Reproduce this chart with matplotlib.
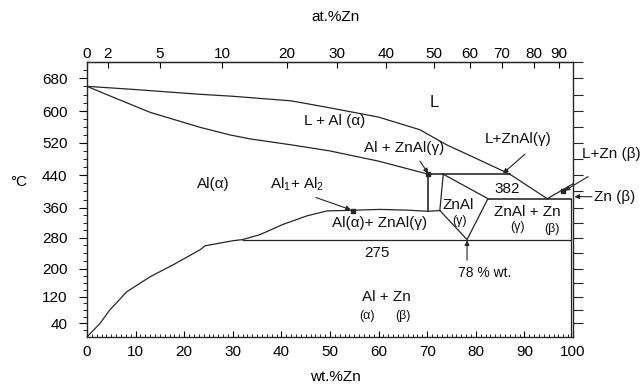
import numpy as np
import matplotlib
matplotlib.use('Agg')
import matplotlib.pyplot as plt

plt.rcParams.update({
    'font.family': 'Liberation Sans', 'font.size': 11,
    'mathtext.fontset': 'custom', 'mathtext.rm': 'Liberation Sans',
    'mathtext.it': 'Liberation Sans',
})

# --- phase boundaries (wt.% Zn, deg C) ---
LIQ_WT = [0, 9, 23, 30, 42, 50, 60, 68.5, 74, 80, 87, 94.7]
LIQ_T = [660, 653, 641, 636, 625, 608, 585, 553, 515, 482, 443, 382]

SOL_WT = [0, 4.7, 13, 23.3, 29.4, 33.5, 42, 50, 60, 70.2]
SOL_T = [660, 637, 597, 559, 540, 530, 515, 500, 475, 443]

SOLVUS_WT = [0, 2.7, 4.7, 8.2, 13, 17.7, 23.3, 24.3, 30, 32]
SOLVUS_T = [0, 40, 80, 134, 177, 210, 249, 259, 272, 275]

DOME_WT = [32, 35.6, 40.3, 45.3, 49.4, 52.7, 60.3, 66, 70.2, 72.6]
DOME_T = [275, 288, 315, 338, 351, 352, 355, 353, 350, 352]

GAMMA_WT = [73.3, 82.5, 78.2, 72.6, 73.3]
GAMMA_T = [443, 382, 275, 352, 443]

ZN_LIQ_WT = [94.7, 100]
ZN_LIQ_T = [382, 419]

PERITECTIC_T = 443
PERITECTIC_WT = [70.2, 87]
EUTECTIC_T = 382
EUTECTIC_WT = [82.5, 99.5]
EUTECTOID_T = 275
EUTECTOID_WT = [32, 99.5]
ALPHA_EDGE_WT = 70.2
ALPHA_EDGE_T = [443, 350]
ZN_SOLVUS_WT = 99.5
ZN_SOLVUS_T = [382, 0]

# top axis: at.% Zn labels and where they sit on the wt.% scale
AT_LABELS = ['0', '2', '5', '10', '20', '30', '40', '50', '60', '70', '80', '90']
AT_POS_WT = [0, 4.3, 15.0, 27.8, 41.2, 51.4, 61.5, 71.4, 78.8, 85.4, 92.0, 97.1]

Y_TICKS = [40, 120, 200, 280, 360, 440, 520, 600, 680]

# markers and arrows (tail -> tip)
DOT_WT = [70.2, 54.7, 97.9]
DOT_T = [443, 352, 400]
ARROWS = [
    ((68.5, 475), (70.2, 445)),
    ((90.1, 492), (85.6, 445)),
    ((47.1, 385), (54.3, 354)),
    ((103.1, 437), (98.3, 402)),
    ((103.9, 387), (100.3, 387)),
    ((78.2, 222), (78.2, 273)),
]

LABELS = [
    ('L', 71.4, 622, 12),
    ('L + Al (α)', 51, 575, 11),
    ('Al + ZnAl(γ)', 65.2, 507, 11),
    ('L+ZnAl(γ)', 88.7, 530, 11),
    ('Al(α)', 25.9, 418, 11),
    (r'Al$_1$+ Al$_2$', 43.2, 418, 11),
    ('Al(α)+ ZnAl(γ)', 60.3, 320, 11),
    ('ZnAl', 76.3, 367, 11),
    ('(γ)', 76.7, 323, 9),
    ('382', 86.4, 405, 11),
    ('ZnAl + Zn', 90.7, 347, 11),
    ('(γ)', 88.5, 307, 9),
    ('(β)', 95.7, 304, 9),
    ('275', 59.7, 241, 11),
    ('78 % wt.', 81.9, 189, 10),
    ('Al + Zn', 61.7, 120, 11),
    ('(α)', 57.6, 62, 9),
    ('(β)', 65.0, 62, 9),
]
LABELS_RIGHT = [
    ('L+Zn (β)', 101.9, 492, 11),
    ('Zn (β)', 104.3, 387, 11),
]

# the scanned temperature axis is not evenly spaced: calibrate it
SCALE_T = [-1000, 0, 40, 120, 200, 280, 360, 440, 520, 600, 680, 720, 2000]
SCALE_PX = [-342.5, 0, 13.7, 40.3, 68, 99, 129, 161, 193.5, 225, 258, 274, 786]


def t_fwd(t):
    return np.interp(t, SCALE_T, SCALE_PX)


def t_inv(h):
    return np.interp(h, SCALE_PX, SCALE_T)


def main():
    C = '#262626'
    LW = 0.9
    fig = plt.figure(figsize=(6.41, 3.87), dpi=100)
    pos = [87/641, 1-337/387, (573-87)/641, (337-62)/387]
    ax = fig.add_axes(pos)
    ax.set_yscale('function', functions=(t_fwd, t_inv))
    ax.set_xlim(0, 100)
    ax.set_ylim(0, 720)

    ax.plot(LIQ_WT, LIQ_T, color=C, lw=LW)
    ax.plot(SOL_WT, SOL_T, color=C, lw=LW)
    ax.plot(SOLVUS_WT, SOLVUS_T, color=C, lw=LW)
    ax.plot(DOME_WT, DOME_T, color=C, lw=LW)
    ax.plot(GAMMA_WT, GAMMA_T, color=C, lw=LW)
    ax.plot(ZN_LIQ_WT, ZN_LIQ_T, color=C, lw=LW)
    ax.plot(PERITECTIC_WT, [PERITECTIC_T]*2, color=C, lw=LW*1.3)
    ax.plot(EUTECTIC_WT, [EUTECTIC_T]*2, color=C, lw=LW*1.3)
    ax.plot(EUTECTOID_WT, [EUTECTOID_T]*2, color=C, lw=LW)
    ax.plot([ALPHA_EDGE_WT]*2, ALPHA_EDGE_T, color=C, lw=LW*1.3)
    ax.plot([ZN_SOLVUS_WT]*2, ZN_SOLVUS_T, color=C, lw=LW)
    ax.plot(DOT_WT, DOT_T, 's', ms=2.5, color=C)

    for tail, tip in ARROWS:
        ax.annotate('', xy=tip, xytext=tail, annotation_clip=False,
                    arrowprops=dict(arrowstyle='-|>', lw=0.8, color=C,
                                    mutation_scale=7, shrinkA=0, shrinkB=0))

    for txt, x, y, fs in LABELS:
        ax.text(x, y, txt, ha='center', va='center', fontsize=fs, color='#111')
    for txt, x, y, fs in LABELS_RIGHT:
        ax.text(x, y, txt, ha='left', va='center', fontsize=fs, color='#111')

    # axes styling
    for s in ax.spines.values():
        s.set_linewidth(1.0); s.set_color(C)
    ax.set_xticks(range(0, 101, 10))
    ax.set_xticks(range(0, 101, 1), minor=True)
    ax.tick_params(axis='x', which='major', direction='in', length=4,
                   width=0.8, pad=6, labelsize=11, top=False)
    ax.tick_params(axis='x', which='minor', direction='in', length=2,
                   width=0.6, top=False)
    ax.set_yticks(Y_TICKS)
    ax.set_yticks([t for t in range(20, 720, 20) if t not in Y_TICKS], minor=True)
    ax.tick_params(axis='y', which='major', direction='out', length=6,
                   width=0.8, pad=8, labelsize=11, right=False)
    ax.tick_params(axis='y', which='minor', direction='out', length=3,
                   width=0.6, right=False)

    top = ax.secondary_xaxis('top')
    top.set_xticks(AT_POS_WT, labels=AT_LABELS)
    top.tick_params(direction='in', length=4, width=0.8, pad=1, labelsize=11)

    axr = fig.add_axes(pos)
    axr.set_yscale('function', functions=(t_fwd, t_inv))
    axr.set_ylim(0, 720)
    axr.set_xlim(0, 100)
    axr.patch.set_visible(False)
    for s in axr.spines.values():
        s.set_visible(False)
    axr.set_xticks([])
    axr.yaxis.tick_right()
    axr.set_yticks(range(40, 721, 40))
    axr.tick_params(axis='y', direction='out', length=7, width=0.8,
                    labelright=False, colors=C)

    fig.text(19/641, 1-182/387, '°C', ha='center', va='center', fontsize=11)
    fig.text(335/641, 1-17/387, 'at.%Zn', ha='center', va='center', fontsize=11)
    fig.text(335/641, 1-377/387, 'wt.%Zn', ha='center', va='center', fontsize=11)

    fig.savefig('out.png', dpi=100)
    plt.close(fig)


if __name__ == '__main__':
    main()
